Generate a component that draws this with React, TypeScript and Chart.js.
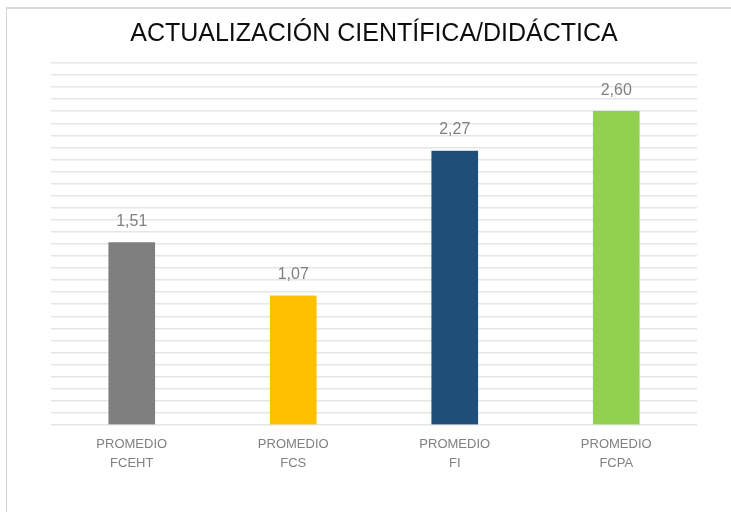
import React, { useEffect, useRef } from "react";
import { Chart, registerables } from "chart.js";

Chart.register(...registerables);

const TITLE = "ACTUALIZACIÓN CIENTÍFICA/DIDÁCTICA";
const categories: string[][] = [
  ["PROMEDIO", "FCEHT"],
  ["PROMEDIO", "FCS"],
  ["PROMEDIO", "FI"],
  ["PROMEDIO", "FCPA"],
];
const values: number[] = [1.51, 1.07, 2.27, 2.6];
const barColors: string[] = ["#7f7f7f", "#ffc000", "#1f4e79", "#92d050"];
const yMin = 0;
const yMax = 3;
const yStep = 0.1;

const FONT = "'Liberation Sans', Arial, sans-serif";

const valueLabels = {
  id: "valueLabels",
  afterDatasetsDraw(chart: any) {
    const ctx = chart.ctx;
    const meta = chart.getDatasetMeta(0);
    ctx.save();
    ctx.font = `16px ${FONT}`;
    ctx.fillStyle = "#808080";
    ctx.textAlign = "center";
    ctx.textBaseline = "bottom";
    meta.data.forEach((el: any, i: number) => {
      const v = chart.data.datasets[0].data[i] as number;
      ctx.fillText(v.toFixed(2).replace(".", ","), el.x, el.y - 13);
    });
    ctx.restore();
  },
};

export default function App() {
  const ref = useRef<HTMLCanvasElement>(null);
  useEffect(() => {
    if (!ref.current) return;
    const chart = new Chart(ref.current, {
      type: "bar",
      data: {
        labels: categories,
        datasets: [
          {
            data: values,
            backgroundColor: barColors,
            borderWidth: 0,
            barThickness: 46,
          },
        ],
      },
      options: {
        animation: false,
        responsive: false,
        layout: { padding: { left: 51, right: 34, top: 8, bottom: 37.5 } },
        plugins: {
          legend: { display: false },
          tooltip: { enabled: false },
          title: {
            display: true,
            text: TITLE,
            color: "#0d0d0d",
            font: { family: FONT, size: 25, weight: "normal" },
            padding: { top: 11, bottom: 14 },
          },
        },
        scales: {
          x: {
            grid: { display: false },
            border: { display: false },
            ticks: {
              color: "#808080",
              font: { family: FONT, size: 13, lineHeight: 1.45 },
              padding: 2,
              maxRotation: 0,
            },
          },
          y: {
            min: yMin,
            max: yMax,
            ticks: { display: false, stepSize: yStep },
            grid: { color: "#e6e6e6", lineWidth: 1.5, drawTicks: false },
            border: { display: false },
          },
        },
      },
      plugins: [valueLabels],
    });
    return () => chart.destroy();
  }, []);
  return (
    <div style={{ position: "fixed", left: 0, top: 0, width: 731, height: 512, background: "#fff" }}>
      <div
        style={{
          position: "absolute",
          left: 6,
          top: 7,
          width: 731,
          height: 512,
          borderLeft: "1px solid #d4d4d4",
          borderTop: "2px solid #d9d9d9",
        }}
      />
      <canvas ref={ref} width={731} height={512} style={{ position: "absolute", left: 0, top: 0 }} />
    </div>
  );
}
